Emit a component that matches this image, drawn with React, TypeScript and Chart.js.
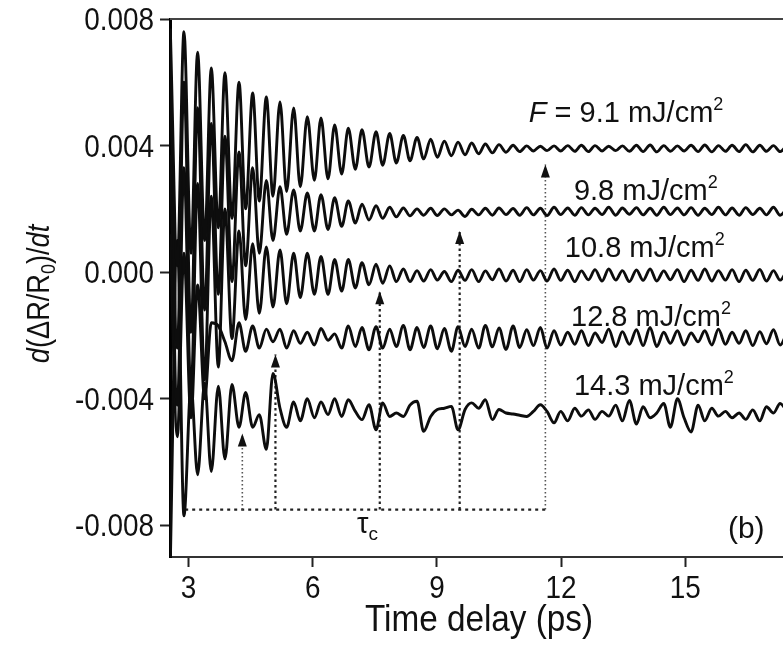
import React, { useEffect, useRef } from 'react';
import { Chart, registerables } from 'chart.js';

Chart.register(...registerables);

// Time grid (ps) of the sampled extrema of the oscillations
const TIME_PS = [
  2.56, 2.73, 2.89, 3.06, 3.22, 3.39, 3.55, 3.72, 3.88, 4.05,
  4.22, 4.38, 4.55, 4.71, 4.88, 5.04, 5.21, 5.37, 5.54, 5.70,
  5.87, 6.04, 6.20, 6.37, 6.53, 6.70, 6.86, 7.03, 7.19, 7.36,
  7.53, 7.69, 7.86, 8.02, 8.19, 8.35, 8.52, 8.68, 8.85, 9.01,
  9.18, 9.35, 9.51, 9.68, 9.84, 10.01, 10.17, 10.34, 10.50, 10.67,
  10.84, 11.00, 11.17, 11.33, 11.50, 11.66, 11.83, 11.99, 12.16, 12.33,
  12.49, 12.66, 12.82, 12.99, 13.15, 13.32, 13.48, 13.65, 13.82, 13.98,
  14.15, 14.31, 14.48, 14.64, 14.81, 14.97, 15.14, 15.31, 15.47, 15.64,
  15.80, 15.97, 16.13, 16.30, 16.46, 16.63, 16.80, 16.96, 17.13, 17.29,
  17.46,
];

// d(ΔR/R0)/dt, F = 9.1 mJ/cm²
const DERIV_F91 = [
  0.00770, 0.00020, 0.00760, 0.00060, 0.00695, 0.00100, 0.00645, 0.00140, 0.00630, 0.00170,
  0.00600, 0.00200, 0.00566, 0.00225, 0.00554, 0.00240, 0.00538, 0.00255, 0.00519, 0.00270,
  0.00491, 0.00290, 0.00487, 0.00295, 0.00465, 0.00310, 0.00455, 0.00325, 0.00450, 0.00332,
  0.00444, 0.00338, 0.00438, 0.00345, 0.00432, 0.00352, 0.00426, 0.00358, 0.00420, 0.00363,
  0.00414, 0.00368, 0.00411, 0.00371, 0.00408, 0.00374, 0.00405, 0.00377, 0.00403, 0.00379,
  0.00401, 0.00381, 0.00399, 0.00383, 0.00398, 0.00384, 0.00399, 0.00383, 0.00400, 0.00382,
  0.00401, 0.00381, 0.00400, 0.00383, 0.00398, 0.00384, 0.00399, 0.00382, 0.00401, 0.00381,
  0.00402, 0.00380, 0.00400, 0.00382, 0.00399, 0.00383, 0.00401, 0.00381, 0.00402, 0.00380,
  0.00400, 0.00382, 0.00401, 0.00381, 0.00403, 0.00380, 0.00401, 0.00382, 0.00400, 0.00381,
  0.00402,
];

// F = 9.8 mJ/cm²
const DERIV_F98 = [
  0.0064, -0.0024, 0.0060, -0.0019, 0.0052, -0.0012, 0.0047, -0.0007, 0.0043, -0.0003,
  0.0038, 0.0002, 0.0033, 0.0006, 0.0029, 0.0010, 0.0027, 0.0012, 0.0026, 0.0013,
  0.0025, 0.0013, 0.00245, 0.00135, 0.00235, 0.00145, 0.00225, 0.00155, 0.00215, 0.00165,
  0.00210, 0.00170, 0.00205, 0.00175, 0.00203, 0.00178, 0.00200, 0.00180, 0.00202, 0.00179,
  0.00200, 0.00181, 0.00196, 0.00176, 0.00199, 0.00181, 0.00202, 0.00180, 0.00203, 0.00182,
  0.00201, 0.00180, 0.00204, 0.00181, 0.00202, 0.00179, 0.00205, 0.00182, 0.00203, 0.00180,
  0.00204, 0.00181, 0.00202, 0.00182, 0.00205, 0.00180, 0.00203, 0.00183, 0.00204, 0.00181,
  0.00202, 0.00180, 0.00205, 0.00182, 0.00203, 0.00181, 0.00204, 0.00180, 0.00202, 0.00182,
  0.00205, 0.00181, 0.00203, 0.00180, 0.00204, 0.00182, 0.00202, 0.00181, 0.00205, 0.00180,
  0.00203,
];

// F = 10.8 mJ/cm²
const DERIV_F108 = [
  0.0037, -0.0042, 0.0033, -0.0038, 0.0028, -0.0034, 0.0024, -0.0030, 0.0020, -0.0021,
  0.0013, -0.0015, 0.0009, -0.0013, 0.0008, -0.0011, 0.0007, -0.0010, 0.0006, -0.0008,
  0.0006, -0.0007, 0.0005, -0.0007, 0.0004, -0.0006, 0.0004, -0.0005, 0.0003, -0.0004,
  0.00025, -0.00035, 0.0002, -0.0003, 0.00010, -0.00030, 0.00005, -0.00028, 0.00008, -0.00025,
  0.00002, -0.00030, 0.00006, -0.00026, 0.00008, -0.00030, 0.00004, -0.00024, 0.00010, -0.00028,
  0.00006, -0.00030, 0.00008, -0.00025, 0.00005, -0.00028, 0.00010, -0.00026, 0.00006, -0.00030,
  0.00004, -0.00024, 0.00008, -0.00028, 0.00010, -0.00025, 0.00005, -0.00030, 0.00007, -0.00026,
  0.00010, -0.00028, 0.00004, -0.00024, 0.00008, -0.00030, 0.00006, -0.00026, 0.00010, -0.00028,
  0.00005, -0.00025, 0.00008, -0.00030, 0.00006, -0.00026, 0.00009, -0.00028, 0.00005, -0.00025,
  0.00007,
];

// F = 12.8 mJ/cm²
const DERIV_F128 = [
  0.0012, -0.0052, 0.0006, -0.0046, -0.0004, -0.0040, -0.0016, -0.0017, -0.0022, -0.0028,
  -0.0016, -0.0025, -0.0017, -0.0024, -0.0018, -0.0022, -0.0018, -0.0024, -0.00185, -0.00225,
  -0.00190, -0.00230, -0.00178, -0.00215, -0.00195, -0.00240, -0.00170, -0.00235, -0.00175, -0.00245,
  -0.00172, -0.00240, -0.00180, -0.00235, -0.00168, -0.00245, -0.00175, -0.00238, -0.00170, -0.00242,
  -0.00178, -0.00250, -0.00172, -0.00235, -0.00180, -0.00240, -0.00168, -0.00236, -0.00176, -0.00244,
  -0.00170, -0.00238, -0.00182, -0.00232, -0.00175, -0.00240, -0.00185, -0.00230, -0.00190, -0.00228,
  -0.00185, -0.00232, -0.00192, -0.00222, -0.00180, -0.00235, -0.00188, -0.00228, -0.00182, -0.00232,
  -0.00175, -0.00235, -0.00190, -0.00225, -0.00185, -0.00230, -0.00192, -0.00220, -0.00185, -0.00230,
  -0.00180, -0.00228, -0.00190, -0.00225, -0.00185, -0.00232, -0.00188, -0.00226, -0.00182, -0.00230,
  -0.00190,
];

// F = 14.3 mJ/cm²
const DERIV_F143 = [
  -0.0092, 0.0010, -0.0077, -0.0036, -0.0064, -0.0035, -0.0063, -0.0036, -0.0059, -0.00355,
  -0.0049, -0.0038, -0.0049, -0.0045, -0.0056, -0.0032, -0.0043, -0.0049, -0.0041, -0.0047,
  -0.0040, -0.0046, -0.0041, -0.0045, -0.0040, -0.00456, -0.00403, -0.00440, -0.00466, -0.00419,
  -0.00498, -0.00413, -0.00456, -0.00445, -0.00456, -0.00420, -0.00408, -0.00503, -0.00456, -0.00434,
  -0.00430, -0.00424, -0.00498, -0.00434, -0.00413, -0.00430, -0.00403, -0.00466, -0.00434, -0.00445,
  -0.00448, -0.00452, -0.00456, -0.00440, -0.00419, -0.00440, -0.00476, -0.00440, -0.00470, -0.00430,
  -0.00455, -0.00435, -0.00465, -0.00440, -0.00455, -0.00420, -0.00470, -0.00405, -0.00480, -0.00425,
  -0.00460, -0.00445, -0.00415, -0.00490, -0.00400, -0.00460, -0.00505, -0.00420, -0.00470, -0.00430,
  -0.00455, -0.00440, -0.00460, -0.00445, -0.00465, -0.00435, -0.00470, -0.00425, -0.00445, -0.00415,
  -0.00440,
];

const FLUENCES = ['9.1', '9.8', '10.8', '12.8', '14.3'];
const X_TICKS = [3, 6, 9, 12, 15];
const Y_TICKS = [-0.008, -0.004, 0, 0.004, 0.008];
const Y_TICK_LABELS = ['-0.008', '-0.004', '0.000', '0.004', '0.008'];

// τc markers: arrow times (ps) and arrow tip levels
const ARROW_TIMES = [4.30, 5.10, 7.62, 9.55, 11.62];
const ARROW_TIPS = [-0.0051, -0.0026, -0.0006, 0.0013, 0.0034];
const TAU_LEVEL = -0.0075;
const TAU_START = 2.92;

const X_MIN = 2.553;
const X_MAX = 17.36;
const Y_MIN = -0.009;
const Y_MAX = 0.008;

// annotation anchors (data coordinates)
const LABEL_T = [11.22, 12.31, 12.09, 12.24, 12.31];
const LABEL_V = [0.00475, 0.00228, 0.00048, -0.00170, -0.00388];

const FONT = '"Liberation Sans", Arial, Helvetica, sans-serif';

type Run = { text: string; size: number; italic?: boolean; dy?: number };

function fontOf(r: Run) {
  return `${r.italic ? 'italic ' : ''}${r.size}px ${FONT}`;
}

function drawRuns(ctx: CanvasRenderingContext2D, runs: Run[], x: number, y: number, align: 'left' | 'center' | 'right', sx = 1) {
  const widths = runs.map((r) => {
    ctx.font = fontOf(r);
    return ctx.measureText(r.text).width * sx;
  });
  const total = widths.reduce((a, b) => a + b, 0);
  let cx = align === 'left' ? x : align === 'center' ? x - total / 2 : x - total;
  runs.forEach((r, i) => {
    ctx.font = fontOf(r);
    ctx.save();
    ctx.translate(cx, y + (r.dy || 0));
    ctx.scale(sx, 1);
    ctx.fillText(r.text, 0, 0);
    ctx.restore();
    cx += widths[i];
  });
}

const decorPlugin = {
  id: 'decor',
  afterDatasetsDraw(chart: any) {
    const { ctx, scales } = chart;
    const xs = scales.x;
    const ys = scales.y;
    ctx.save();
    ctx.fillStyle = '#111';
    ARROW_TIMES.forEach((t, i) => {
      const px = xs.getPixelForValue(t);
      const py = ys.getPixelForValue(ARROW_TIPS[i]);
      ctx.beginPath();
      ctx.moveTo(px, py);
      ctx.lineTo(px - 4.5, py + 13);
      ctx.lineTo(px + 4.5, py + 13);
      ctx.closePath();
      ctx.fill();
    });
    ctx.restore();
  },
  afterDraw(chart: any) {
    const { ctx, chartArea, scales } = chart;
    const xs = scales.x;
    const ys = scales.y;
    ctx.save();
    // top frame line
    ctx.strokeStyle = '#444';
    ctx.lineWidth = 2;
    ctx.beginPath();
    ctx.moveTo(chartArea.left, chartArea.top);
    ctx.lineTo(chartArea.right, chartArea.top);
    ctx.stroke();

    ctx.fillStyle = '#111';
    ctx.textBaseline = 'alphabetic';
    // x tick labels
    X_TICKS.forEach((v) => {
      drawRuns(ctx, [{ text: String(v), size: 31 }], xs.getPixelForValue(v), 598, 'center', 0.9);
    });
    // y tick labels
    Y_TICKS.forEach((v, i) => {
      drawRuns(ctx, [{ text: Y_TICK_LABELS[i], size: 31 }], 154, ys.getPixelForValue(v) + 11, 'right', 0.9);
    });
    // x title
    drawRuns(ctx, [{ text: 'Time delay (ps)', size: 37 }], 479, 631, 'center', 0.9);
    // y title
    ctx.save();
    ctx.translate(49, 294);
    ctx.rotate(-Math.PI / 2);
    drawRuns(ctx, [
      { text: 'd', size: 32, italic: true },
      { text: '(ΔR/R', size: 32 },
      { text: '0', size: 21, dy: 6 },
      { text: ')/', size: 32 },
      { text: 'dt', size: 32, italic: true },
    ], 0, 0, 'center', 0.85);
    ctx.restore();

    // fluence labels
    FLUENCES.forEach((f, i) => {
      const px = xs.getPixelForValue(LABEL_T[i]);
      const py = ys.getPixelForValue(LABEL_V[i]);
      const runs: Run[] = [];
      if (i === 0) {
        runs.push({ text: 'F', size: 29, italic: true });
        runs.push({ text: ' = ' + f + ' mJ/cm', size: 29 });
      } else {
        runs.push({ text: f + ' mJ/cm', size: 29 });
      }
      runs.push({ text: '2', size: 18, dy: -12 });
      drawRuns(ctx, runs, px, py, 'left');
    });
    // panel label
    drawRuns(ctx, [{ text: '(b)', size: 30 }], xs.getPixelForValue(16.03), ys.getPixelForValue(-0.0084), 'left');
    // tau_c
    drawRuns(ctx, [{ text: 'τ', size: 29 }, { text: 'c', size: 19, dy: 7 }], xs.getPixelForValue(7.07), ys.getPixelForValue(-0.00824), 'left');
    ctx.restore();
  },
};

export default function App() {
  const canvasRef = useRef<HTMLCanvasElement>(null);

  useEffect(() => {
    const canvas = canvasRef.current;
    if (!canvas) return;
    const series = [DERIV_F91, DERIV_F98, DERIV_F108, DERIV_F128, DERIV_F143];
    const toPoints = (vals: number[]) => vals.map((v, i) => ({ x: TIME_PS[i], y: v }));

    const traceSets = series.map((vals, i) => ({
      label: FLUENCES[i] + ' mJ/cm²',
      data: toPoints(vals),
      borderColor: '#0d0d0d',
      borderWidth: 2.9,
      pointRadius: 0,
      cubicInterpolationMode: 'monotone' as const,
      fill: false,
    }));

    const arrowSets = ARROW_TIMES.map((t, i) => ({
      label: 'tau arrow ' + i,
      data: [{ x: t, y: TAU_LEVEL }, { x: t, y: ARROW_TIPS[i] }],
      borderColor: i === 0 || i === 4 ? '#555' : '#222',
      borderWidth: i === 0 || i === 4 ? 1.6 : 2.2,
      borderDash: i === 0 || i === 4 ? [1.5, 2.5] : [2.5, 3],
      pointRadius: 0,
      fill: false,
    }));

    const tauLine = {
      label: 'tau line',
      data: [{ x: TAU_START, y: TAU_LEVEL }, { x: ARROW_TIMES[4], y: TAU_LEVEL }],
      borderColor: '#222',
      borderWidth: 2.2,
      borderDash: [3, 4],
      pointRadius: 0,
      fill: false,
    };

    const chart = new Chart(canvas, {
      type: 'line',
      data: { datasets: [...traceSets, ...arrowSets, tauLine] as any },
      options: {
        animation: false,
        responsive: false,
        devicePixelRatio: 1,
        layout: { padding: { top: 19, left: 0, right: 0, bottom: 0 } },
        plugins: { legend: { display: false }, tooltip: { enabled: false } },
        elements: { line: { tension: 0 } },
        scales: {
          x: {
            type: 'linear',
            min: X_MIN,
            max: X_MAX,
            afterBuildTicks: (s: any) => { s.ticks = X_TICKS.map((v) => ({ value: v })); },
            afterFit: (s: any) => { s.height = 95; },
            ticks: { display: false },
            grid: { display: true, drawOnChartArea: false, drawTicks: true, tickLength: 10, tickWidth: 2, tickColor: '#222' },
            border: { display: true, color: '#333', width: 2 },
          },
          y: {
            type: 'linear',
            min: Y_MIN,
            max: Y_MAX,
            afterBuildTicks: (s: any) => { s.ticks = Y_TICKS.map((v) => ({ value: v })); },
            afterFit: (s: any) => { s.width = 170; },
            ticks: { display: false },
            grid: { display: true, drawOnChartArea: false, drawTicks: true, tickLength: 10, tickWidth: 2, tickColor: '#222' },
            border: { display: true, color: '#000', width: 3 },
          },
        },
      } as any,
      plugins: [decorPlugin],
    });
    return () => chart.destroy();
  }, []);

  return (
    <div style={{ position: 'fixed', left: 0, top: 0, width: 783, height: 652, background: '#fff' }}>
      <canvas ref={canvasRef} width={783} height={652} style={{ width: 783, height: 652, display: 'block' }} />
    </div>
  );
}
